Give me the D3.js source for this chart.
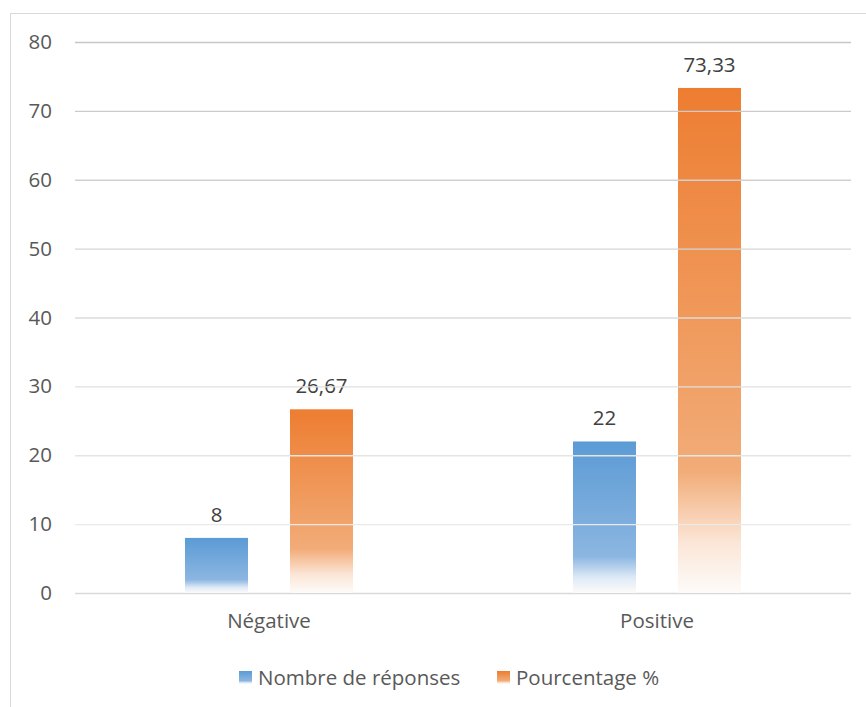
<!DOCTYPE html>
<html lang="fr">
<head>
<meta charset="UTF-8">
<title>Réponses</title>
<script src="https://d3js.org/d3.v7.min.js"></script>
<style>
  body { margin: 0; background: #fff; }
  svg text { font-family: "Open Sans", "Noto Sans", sans-serif; }
</style>
</head>
<body>
<svg width="866" height="707"></svg>
<script>
// Data
const categories = ["Négative", "Positive"];
const seriesNames = ["Nombre de réponses", "Pourcentage %"];
const nombreReponses = [8, 22];
const pourcentage = [26.67, 73.33];
const yTicks = [0, 10, 20, 30, 40, 50, 60, 70, 80];

const colors = ["#5b9bd5", "#ed7d31"];
const fades = [["#8cb6e1", "#dfeaf7"], ["#f2ac78", "#fbe6d7"]];

const svg = d3.select("svg");
const margin = { top: 42, right: 15, bottom: 114, left: 75 };
const width = 866 - margin.left - margin.right;
const height = 707 - margin.top - margin.bottom;

// chart border
svg.append("rect")
    .attr("x", 10.5).attr("y", 13.5)
    .attr("width", 870).attr("height", 710)
    .attr("fill", "none").attr("stroke", "#d9d9d9");

const defs = svg.append("defs");
colors.forEach((c, i) => {
    const g = defs.append("linearGradient")
        .attr("id", "grad" + i)
        .attr("x1", 0).attr("y1", 0).attr("x2", 0).attr("y2", 1);
    g.append("stop").attr("offset", "0%").attr("stop-color", c);
    g.append("stop").attr("offset", "76%").attr("stop-color", fades[i][0]);
    g.append("stop").attr("offset", "90%").attr("stop-color", fades[i][1]);
    g.append("stop").attr("offset", "100%").attr("stop-color", "#fdfbf9");
});
const gridGrad = defs.append("linearGradient")
    .attr("id", "gridGrad").attr("gradientUnits", "userSpaceOnUse")
    .attr("x1", 0).attr("y1", margin.top).attr("x2", 0).attr("y2", margin.top + height);
gridGrad.append("stop").attr("offset", "0%").attr("stop-color", "#c6c6c6");
gridGrad.append("stop").attr("offset", "100%").attr("stop-color", "#efefef");

const g = svg.append("g").attr("transform", `translate(${margin.left},${margin.top})`);

const x0 = d3.scaleBand().domain(categories).range([0, width]);
const x1 = d3.scaleBand().domain(seriesNames).range([0, 168]).paddingInner(0.4);
const y = d3.scaleLinear().domain([0, 80]).range([height, 0]);

// gridlines
svg.append("g")
    .selectAll("line")
    .data(yTicks.filter(d => d > 0))
    .join("line")
    .attr("x1", margin.left).attr("x2", margin.left + width)
    .attr("y1", d => margin.top + y(d) + 0.5).attr("y2", d => margin.top + y(d) + 0.5)
    .attr("stroke", "url(#gridGrad)").attr("stroke-width", 1.3);

// y axis labels
const yAxis = g.append("g")
    .call(d3.axisLeft(y).tickValues(yTicks).tickSize(0).tickPadding(23));
yAxis.select(".domain").remove();
yAxis.selectAll("text").attr("font-size", 20.5).attr("fill", "#595959")
    .style("font-family", "'Open Sans', sans-serif");

// baseline
g.append("line")
    .attr("x1", 0).attr("x2", width)
    .attr("y1", height + 0.5).attr("y2", height + 0.5)
    .attr("stroke", "#d9d9d9").attr("stroke-width", 1.5);

// x axis labels
const xAxis = g.append("g")
    .attr("transform", `translate(0,${height})`)
    .call(d3.axisBottom(x0).tickSize(0).tickPadding(20));
xAxis.select(".domain").remove();
xAxis.selectAll("text").attr("font-size", 20.5).attr("fill", "#595959")
    .style("font-family", "'Open Sans', sans-serif");

const series = [nombreReponses, pourcentage];
const fmt = v => String(v).replace(".", ",");

categories.forEach((cat, ci) => {
    const grp = g.append("g").attr("transform", `translate(${x0(cat) + x0.bandwidth() / 2 - 84},0)`);
    seriesNames.forEach((s, si) => {
        const v = series[si][ci];
        grp.append("rect")
            .attr("x", x1(s)).attr("width", x1.bandwidth())
            .attr("y", y(v)).attr("height", height - y(v))
            .attr("fill", `url(#grad${si})`);
        grp.append("text")
            .attr("x", x1(s) + x1.bandwidth() / 2)
            .attr("y", y(v) - 16)
            .attr("text-anchor", "middle")
            .attr("font-size", 20.5).attr("fill", "#404040")
            .text(fmt(v));
    });
});

// legend
const legendX = [239, 497];
const legend = svg.append("g").attr("transform", "translate(0,671)");
seriesNames.forEach((s, i) => {
    legend.append("rect")
        .attr("x", legendX[i]).attr("y", 0)
        .attr("width", 13).attr("height", 13)
        .attr("fill", `url(#grad${i})`);
    legend.append("text")
        .attr("x", legendX[i] + 19).attr("y", 13.5)
        .attr("font-size", 20.5).attr("fill", "#595959")
        .text(s);
});
</script>
</body>
</html>
